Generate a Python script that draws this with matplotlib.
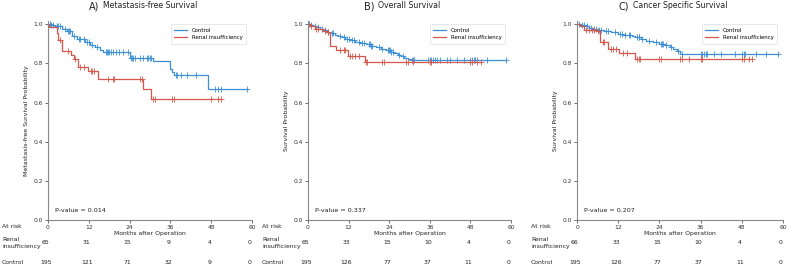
import numpy as np
import matplotlib.pyplot as plt
from matplotlib.transforms import blended_transform_factory

# colours of the two groups
c_ctrl = '#3a8fd6'
c_renal = '#d6574a'

# ---- Panel A: Metastasis-free survival ----
a_renal_t = [0.3, 2.5, 3, 4, 6.8, 7.5, 8.9, 11.8, 14.8, 28, 30.3]
a_renal_s = [0.985, 0.954, 0.92, 0.865, 0.845, 0.822, 0.78, 0.762, 0.723, 0.672, 0.62]
a_renal_cens = [3.5, 6, 7.8, 9.5, 10.5, 12.5, 13, 13.5, 17.5, 19, 19.3, 27, 27.5,
                30.8, 31.5, 36.5, 37, 48, 50, 51]
a_ctrl_t = [0.8, 2.2, 4.2, 5.6, 7, 8.5, 10.9, 12.4, 13.8, 15.3, 16.3, 24.1, 31, 35.9, 36.5, 37, 47]
a_ctrl_s = [0.995, 0.99, 0.976, 0.968, 0.942, 0.925, 0.908, 0.896, 0.882, 0.870, 0.86,
            0.83, 0.814, 0.771, 0.757, 0.742, 0.668]
a_ctrl_cens = [0.5, 1, 1.5, 2.5, 3, 3.5, 5, 6, 6.3, 6.6, 7.5, 9, 9.5, 10.5, 11.5, 12, 13,
               14.5, 17, 17.3, 17.6, 18, 18.5, 19, 20, 21, 22, 23.5, 24.5, 24.8, 25, 25.5,
               27, 28, 29, 29.5, 30, 30.3, 37.5, 38, 39, 41, 43.5, 49, 50, 51, 58.4]
a_renal_risk = [65, 31, 15, 9, 4, 0]
a_ctrl_risk = [195, 121, 71, 32, 9, 0]

# ---- Panel B: Overall survival ----
b_renal_t = [0.5, 2, 4.5, 5.5, 6.4, 8.4, 11.9, 16.8]
b_renal_s = [0.99, 0.976, 0.965, 0.959, 0.891, 0.87, 0.839, 0.805]
b_renal_cens = [1, 2.5, 3, 5, 6, 9.5, 10.5, 11, 12.5, 13, 14, 15, 17.2, 17.5, 22, 22.5,
                29, 29.5, 31, 36, 36.5, 48, 48.5, 50, 51]
b_ctrl_t = [0.5, 1.5, 2.5, 3.5, 4.5, 5.5, 6.5, 8, 9, 10, 11, 12.5, 14, 15.5, 17, 18.5,
            20, 21.5, 23, 24.5, 25.5, 26.5, 27.5, 28.5, 29.5, 30.5]
b_ctrl_s = [0.995, 0.99, 0.985, 0.975, 0.97, 0.963, 0.955, 0.948, 0.94, 0.933, 0.927,
            0.92, 0.912, 0.905, 0.897, 0.888, 0.882, 0.876, 0.868, 0.86, 0.852, 0.845,
            0.838, 0.83, 0.823, 0.817]
b_ctrl_cens = [0.3, 1, 2, 3, 4, 5, 6, 7, 7.5, 9.5, 10.5, 11.5, 12, 13, 13.5, 15, 16, 16.5,
               18, 18.2, 18.5, 19, 21, 22, 23.5, 24, 24.3, 24.6, 25, 27, 28, 30.8, 31, 31.3,
               35.5, 36, 36.5, 37, 37.5, 38, 39, 41, 42, 44, 46, 48, 48.5, 49, 49.5, 50,
               53, 58.5]
b_renal_risk = [65, 33, 15, 10, 4, 0]
b_ctrl_risk = [195, 126, 77, 37, 11, 0]

# ---- Panel C: Cancer specific survival ----
c_renal_t = [1, 2, 5.8, 6.8, 9, 12.2, 17]
c_renal_s = [0.99, 0.97, 0.965, 0.908, 0.875, 0.855, 0.825]
c_renal_cens = [2.5, 3.5, 4.5, 5, 6, 7.5, 8, 10, 10.5, 11.5, 13.5, 14.5, 17.5, 18, 18.3,
                24, 24.5, 30, 30.5, 32.5, 36, 36.5, 48, 48.5, 50, 51]
c_ctrl_t = [1, 2.5, 3.5, 4.5, 6, 8, 10, 12, 13.5, 16, 17, 18.5, 20, 22, 24, 25.5, 27,
            28, 29, 30]
c_ctrl_s = [0.995, 0.99, 0.983, 0.978, 0.97, 0.965, 0.96, 0.953, 0.947, 0.942, 0.935,
            0.925, 0.917, 0.908, 0.9, 0.893, 0.885, 0.875, 0.865, 0.848]
c_ctrl_cens = [0.5, 1.5, 2, 3, 4, 5, 5.5, 6.5, 7, 8.5, 9, 11, 12.5, 13, 14, 15, 15.5,
               17.5, 18, 18.2, 19, 21, 23, 24.5, 24.8, 25, 26, 27.5, 29.5, 30.5, 36,
               36.5, 37, 37.5, 38, 40, 42, 46, 48, 48.5, 49, 52, 55, 58.5]
c_renal_risk = [66, 33, 15, 10, 4, 0]
c_ctrl_risk = [195, 126, 77, 37, 11, 0]

p_values = ['0.014', '0.337', '0.207']
letters = ['A)', 'B)', 'C)']
titles = ['Metastasis-free Survival', 'Overall Survival', 'Cancer Specific Survival']
ylabels = ['Metastasis-free Survival Probability', 'Survival Probability', 'Survival Probability']
xticks = [0, 12, 24, 36, 48, 60]

panels = [
    (a_ctrl_t, a_ctrl_s, a_ctrl_cens, a_renal_t, a_renal_s, a_renal_cens, a_renal_risk, a_ctrl_risk),
    (b_ctrl_t, b_ctrl_s, b_ctrl_cens, b_renal_t, b_renal_s, b_renal_cens, b_renal_risk, b_ctrl_risk),
    (c_ctrl_t, c_ctrl_s, c_ctrl_cens, c_renal_t, c_renal_s, c_renal_cens, c_renal_risk, c_ctrl_risk),
]

W, H = 789, 270
fig = plt.figure(figsize=(W / 100, H / 100), dpi=100)
# axes positions in pixels: left, right
ax_px = [(48, 252), (308, 511), (577, 783)]
top_px, bottom_px = 21, 220
txt = '#222222'


def draw_km(ax, t, s, cens, color, label):
    t = np.asarray(t)
    s = np.asarray(s)
    xs = np.concatenate([[0], t, [max(cens[-1], t[-1])]])
    ys = np.concatenate([[1.0], s, [s[-1]]])
    ax.step(xs, ys, where='post', color=color, lw=0.9, label=label)
    idx = np.searchsorted(t, cens, side='right')
    yc = np.concatenate([[1.0], s])[idx]
    ax.plot(cens, yc, ls='none', marker='+', ms=4, mew=0.6, color=color)


for i, (ct, cs, cc, rt, rs, rc, rrisk, crisk) in enumerate(panels):
    l, r = ax_px[i]
    ax = fig.add_axes([l / W, 1 - bottom_px / H, (r - l) / W, (bottom_px - top_px) / H])
    draw_km(ax, ct, cs, cc, c_ctrl, 'Control')
    draw_km(ax, rt, rs, rc, c_renal, 'Renal insufficiency')
    ax.set_xlim(0, 60)
    ax.set_ylim(0, 1.017)
    ax.set_xticks(xticks)
    ax.set_yticks([0.0, 0.2, 0.4, 0.6, 0.8, 1.0])
    ax.set_yticklabels(['0.0', '0.2', '0.4', '0.6', '0.8', '1.0'])
    ax.tick_params(labelsize=4.3, length=2, width=0.5, pad=1.5, colors='#333333')
    for sp in ['top', 'right']:
        ax.spines[sp].set_visible(False)
    for sp in ['left', 'bottom']:
        ax.spines[sp].set_color('#888888')
        ax.spines[sp].set_linewidth(0.8)
    ax.set_xlabel('Months after Operation', fontsize=4.4, labelpad=1, color=txt)
    ax.set_ylabel(ylabels[i], fontsize=4.5, labelpad=3, color=txt)
    ttl = ax.set_title(titles[i], fontsize=5.6, pad=9, color=txt)
    ax.annotate(letters[i], xy=(0, 0.4), xycoords=ttl, xytext=(-2.5, 0),
                textcoords='offset points', ha='right', va='center', fontsize=7,
                color=txt)
    ax.text(2, 0.048, 'P-value = ' + p_values[i], fontsize=4.6, va='center', color=txt)
    leg = ax.legend(loc='upper right', fontsize=3.9, frameon=True, fancybox=False,
                    borderpad=0.7, handlelength=2.4, labelspacing=0.5,
                    bbox_to_anchor=(0.985, 1.0))
    leg.get_frame().set_edgecolor('#dddddd')
    leg.get_frame().set_linewidth(0.6)

    # number at risk table
    tr = blended_transform_factory(ax.transData, fig.transFigure)
    lab_x = (l - 46) / W
    fig.text(lab_x, 1 - 226 / H, 'At risk', fontsize=4.4, va='center', color=txt)
    fig.text(lab_x, 1 - 243 / H, 'Renal\ninsufficiency', fontsize=4.4, va='center',
             linespacing=1.6, color=txt)
    fig.text(lab_x, 1 - 262 / H, 'Control', fontsize=4.4, va='center', color=txt)
    for xt, nr, nc in zip(xticks, rrisk, crisk):
        ax.text(xt - 0.6, 1 - 243 / H, str(nr), transform=tr, fontsize=4.4, ha='center',
                va='center', color=txt)
        ax.text(xt - 0.6, 1 - 262 / H, str(nc), transform=tr, fontsize=4.4, ha='center',
                va='center', color=txt)

fig.savefig('out.png', dpi=100)
